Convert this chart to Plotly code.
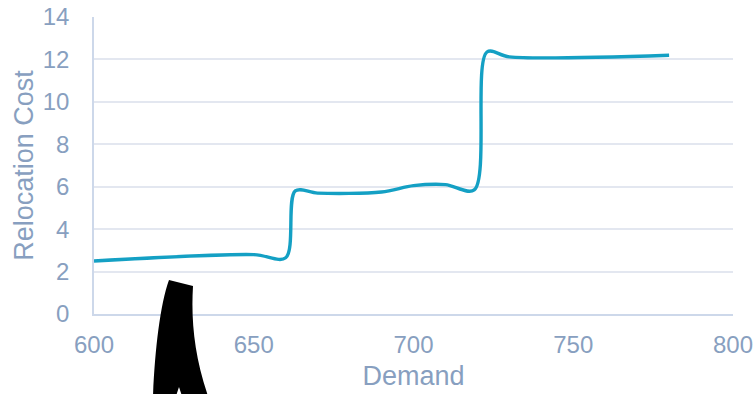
import plotly.graph_objects as go

# Relocation cost as a function of demand
demand = [600, 650, 660, 663, 670, 690, 700, 710, 719, 723, 730, 780]
relocation_cost = [2.5, 2.8, 2.65, 5.8, 5.7, 5.75, 6.05, 6.1, 5.85, 12.35, 12.12, 12.2]

x_ticks = [600, 650, 700, 750, 800]
y_ticks = [0, 2, 4, 6, 8, 10, 12, 14]

W, H = 755, 394
M_L, M_R, M_T, M_B = 94, 22, 17, 80
PW, PH = W - M_L - M_R, H - M_T - M_B

TEXT = "#889FC0"
GRID = "#E3E7F0"
AXIS = "#CDD8EA"
LINE = "#14A0C4"


def paper(px, py):
    """Pixel position on the page -> paper coordinates."""
    return (px - M_L) / PW, (H - M_B - py) / PH


def path_from_pixels(cmds):
    out = []
    for c in cmds:
        if isinstance(c, str):
            out.append(c)
        else:
            x, y = paper(*c)
            out.append(f"{x:.5f},{y:.5f}")
    return " ".join(out)


fig = go.Figure()
fig.add_trace(go.Scatter(
    x=demand, y=relocation_cost, mode="lines",
    line=dict(color=LINE, width=3.4, shape="spline", smoothing=0.9),
    hoverinfo="skip", showlegend=False, cliponaxis=False,
))

# Black brush-stroke pointer below the curve
stroke = path_from_pixels([
    "M", (169, 280), "L", (193, 286),
    "C", (191, 320), (194, 355), (208, 396),
    "L", (182, 396), "L", (179, 387), "L", (176, 396), "L", (153, 396),
    "C", (155, 350), (160, 305), (169, 280), "Z",
])
fig.add_shape(type="path", path=stroke, xref="paper", yref="paper",
              fillcolor="black", line=dict(color="black", width=0), layer="above")

font_family = "Liberation Sans, Arial, sans-serif"
fig.update_layout(
    width=W, height=H,
    margin=dict(l=M_L, r=M_R, t=M_T, b=M_B, pad=0, autoexpand=False),
    paper_bgcolor="white", plot_bgcolor="white",
    font=dict(family=font_family, color=TEXT, size=24),
    xaxis=dict(
        range=[600, 800], tickvals=x_ticks, ticktext=[str(v) for v in x_ticks],
        showgrid=False, zeroline=False, automargin=False,
        showline=True, linecolor=AXIS, linewidth=1.5,
        ticks="", ticklabelstandoff=8,
        tickfont=dict(size=24, color=TEXT),
        title=dict(text="Demand", font=dict(size=27, color=TEXT), standoff=10),
    ),
    yaxis=dict(
        range=[0, 14], tickvals=y_ticks, ticktext=[str(v) for v in y_ticks],
        showgrid=True, gridcolor=GRID, gridwidth=1.5, zeroline=False, automargin=False,
        showline=True, linecolor=AXIS, linewidth=1.5,
        ticks="", ticklabelstandoff=18,
        tickfont=dict(size=24, color=TEXT),
        title=dict(text="Relocation Cost", font=dict(size=27, color=TEXT), standoff=1),
    ),
)

fig.write_html("out.html")
